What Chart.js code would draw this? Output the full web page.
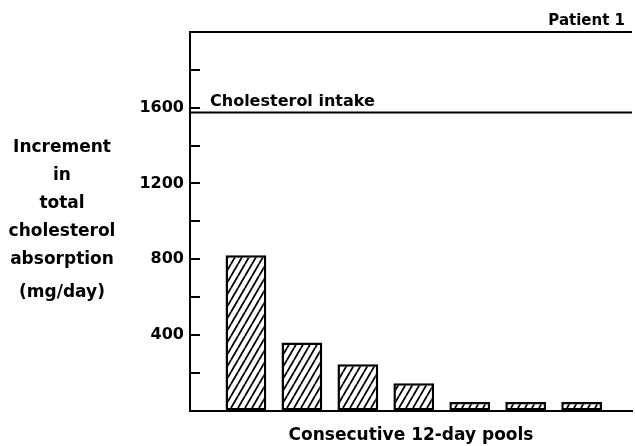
<!DOCTYPE html>
<html><head><meta charset="utf-8">
<script src="https://cdn.jsdelivr.net/npm/chart.js@4.4.1/dist/chart.umd.min.js"></script>
<style>html,body{margin:0;padding:0;background:#fff;overflow:hidden}canvas{display:block}</style>
</head><body>
<canvas id="c" width="635" height="446"></canvas>
<script>
const pools = [1, 2, 3, 4, 5, 6, 7];
const absorption = [820, 360, 245, 145, 45, 45, 45];
const intake = 1575;
const yLabelTicks = [400, 800, 1200, 1600];
const yTitleLines = ['Increment', 'in', 'total', 'cholesterol', 'absorption', '(mg/day)'];
const xTitle = 'Consecutive 12-day pools';
const intakeLabel = 'Cholesterol intake';
const panelLabel = 'Patient 1';

const FONT = "'DejaVu Sans', sans-serif";
const canvas = document.getElementById('c');
const ctx0 = canvas.getContext('2d');

function hatchPattern() {
  const w = 7, h = 12;
  const c = document.createElement('canvas');
  c.width = w; c.height = h;
  const g = c.getContext('2d');
  g.fillStyle = '#fff'; g.fillRect(0, 0, w, h);
  g.strokeStyle = '#000'; g.lineWidth = 1.8;
  g.beginPath();
  [-w, 0, w].forEach(o => { g.moveTo(o, h); g.lineTo(o + w, 0); });
  g.stroke();
  return ctx0.createPattern(c, 'repeat');
}

const deco = {
  id: 'deco',
  afterDatasetsDraw(chart) {
    const { ctx, chartArea: a, scales: { y } } = chart;
    ctx.save();
    ctx.strokeStyle = '#000'; ctx.lineWidth = 2;
    ctx.beginPath(); ctx.moveTo(a.left, a.top); ctx.lineTo(a.right, a.top); ctx.stroke();
    y.ticks.forEach(t => {
      if (t.value > y.min && t.value < y.max) {
        const py = Math.round(y.getPixelForValue(t.value));
        ctx.beginPath(); ctx.moveTo(a.left, py); ctx.lineTo(a.left + 10, py); ctx.stroke();
      }
    });
    ctx.fillStyle = '#000';
    ctx.font = 'bold 16px ' + FONT;
    ctx.textAlign = 'left'; ctx.textBaseline = 'alphabetic';
    ctx.fillText(intakeLabel, a.left + 20, y.getPixelForValue(intake) - 6);
    ctx.font = 'bold 15px ' + FONT;
    ctx.textAlign = 'right';
    ctx.fillText(panelLabel, 625, 25);
    ctx.font = 'bold 17px ' + FONT;
    ctx.textAlign = 'center';
    yTitleLines.forEach((l, i) => {
      const base = 152 + i * 28 + (i === yTitleLines.length - 1 ? 5 : 0);
      ctx.fillText(l, 62, base);
    });
    ctx.restore();
  }
};

new Chart(canvas, {
  data: {
    datasets: [
      {
        type: 'line',
        data: [{ x: 0, y: intake }, { x: 7.9, y: intake }],
        borderColor: '#000', borderWidth: 2, pointRadius: 0, fill: false
      },
      {
        type: 'bar',
        data: pools.map((p, i) => ({ x: p, y: absorption[i] })),
        backgroundColor: hatchPattern(),
        borderColor: '#000', borderWidth: 2.5, borderSkipped: false,
        barPercentage: 0.81, categoryPercentage: 1
      }
    ]
  },
  options: {
    responsive: false, animation: false, devicePixelRatio: 1,
    layout: { padding: { top: 32, right: 3, left: 0, bottom: 0 } },
    plugins: { legend: { display: false }, tooltip: { enabled: false } },
    scales: {
      x: {
        type: 'linear', min: 0, max: 7.9, offset: false,
        ticks: { display: false },
        grid: { display: false, drawTicks: false, offset: false },
        border: { display: true, color: '#000', width: 2 },
        title: { display: true, text: xTitle, color: '#000', font: { family: FONT, size: 17, weight: 'bold' }, padding: { top: 15, bottom: 0 } }
      },
      y: {
        min: 0, max: 2000,
        ticks: {
          stepSize: 200, color: '#000', padding: 6,
          font: { family: FONT, size: 16, weight: 'bold' },
          callback: v => yLabelTicks.includes(v) ? String(v) : ''
        },
        grid: { display: false, drawTicks: false },
        border: { display: true, color: '#000', width: 2 },
        afterFit: s => { s.width = 190; }
      }
    }
  },
  plugins: [deco]
});
</script>
</body></html>
